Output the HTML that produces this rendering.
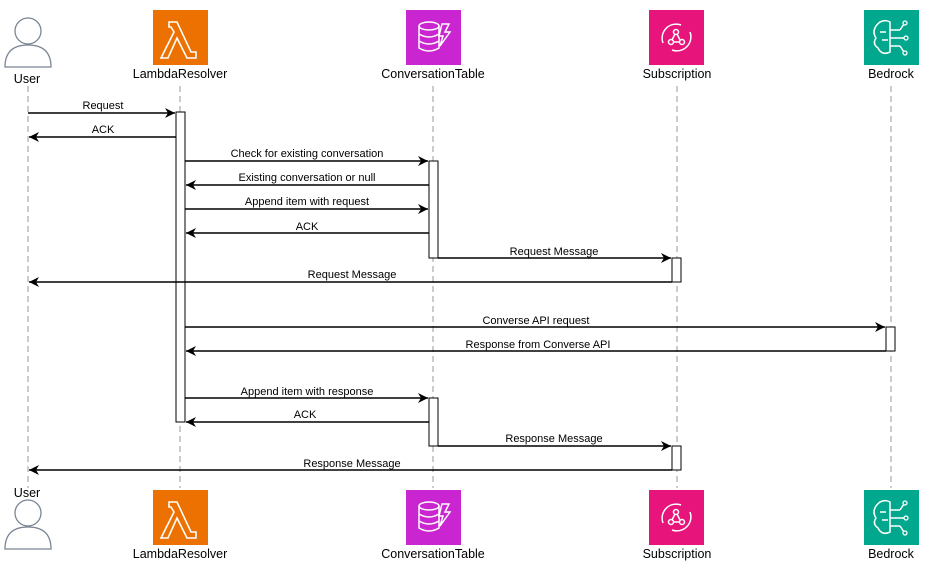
<!DOCTYPE html>
<html><head><style>body{margin:0;background:#fff}svg{display:block}text{font-family:"Liberation Sans",Arial,sans-serif;fill:#000}</style></head><body>
<svg width="930" height="571" viewBox="0 0 930 571" xmlns="http://www.w3.org/2000/svg">
<defs>
<marker id="a" markerWidth="12" markerHeight="10" refX="10" refY="5" orient="auto" markerUnits="userSpaceOnUse"><path d="M0,0 L10,5 L0,10 L3,5 Z" fill="#000"/></marker>
<g id="user"><circle cx="24" cy="14" r="13" fill="#fff" stroke="#7a8594" stroke-width="1.3"/><path d="M1,50 Q1,28 24,28 Q47,28 47,50 Z" fill="#fff" stroke="#7a8594" stroke-width="1.3"/></g>
<g id="lam"><rect width="55" height="55" fill="#ed7100"/><path d="M16,12 h8 l14,30 h5 v6 h-9 l-10,-20 l-9,20 h-7 l13,-26 l-3,-5 h-2 z" fill="none" stroke="#fff" stroke-width="1.6"/></g>
<g id="tab"><rect width="55" height="55" fill="#c925d1"/><ellipse cx="23" cy="16" rx="10" ry="4" fill="none" stroke="#fff" stroke-width="1.5"/><path d="M13,16 v22 q10,6 20,0 v-22 M13,24 q10,6 20,0 M13,31 q10,6 20,0" fill="none" stroke="#fff" stroke-width="1.5"/><path d="M36,14 h7 l-4,8 h5 l-10,14 l3,-10 h-4 z" fill="none" stroke="#fff" stroke-width="1.5"/></g>
<g id="sub"><rect width="55" height="55" fill="#e7157b"/><path d="M14,33 a14,14 0 0 1 18,-18 M41,22 a14,14 0 0 1 -18,18" fill="none" stroke="#fff" stroke-width="1.5"/><circle cx="27" cy="22" r="2.5" fill="none" stroke="#fff" stroke-width="1.5"/><circle cx="22" cy="32" r="2.5" fill="none" stroke="#fff" stroke-width="1.5"/><circle cx="33" cy="32" r="2.5" fill="none" stroke="#fff" stroke-width="1.5"/><path d="M26,24 l-3,6 M28,24 l3,6 M24.5,32 h6" stroke="#fff" stroke-width="1.5"/></g>
<g id="bed"><rect width="55" height="55" fill="#01a88d"/><path d="M12,16 q6,-8 14,-4 v30 q-8,4 -12,-4 q-6,-4 -2,-10 q-4,-6 0,-12 z M26,20 h10 M26,28 h14 M26,36 h10 M36,20 l4,-6 M36,36 l4,6 M16,22 h6 M18,30 h6" fill="none" stroke="#fff" stroke-width="1.5"/><circle cx="41" cy="13" r="2" fill="none" stroke="#fff" stroke-width="1.3"/><circle cx="42" cy="28" r="2" fill="none" stroke="#fff" stroke-width="1.3"/><circle cx="41" cy="43" r="2" fill="none" stroke="#fff" stroke-width="1.3"/></g>
</defs>
<g stroke="#999" stroke-dasharray="6,4" stroke-width="1">
<line x1="28" y1="86" x2="28" y2="488"/><line x1="180" y1="86" x2="180" y2="488"/><line x1="433" y1="86" x2="433" y2="488"/><line x1="677" y1="86" x2="677" y2="488"/><line x1="891" y1="86" x2="891" y2="488"/>
</g>
<use href="#user" x="4" y="17"/><use href="#user" x="4" y="499"/>
<use href="#lam" x="153" y="10"/><use href="#lam" x="153" y="490"/>
<use href="#tab" x="406" y="10"/><use href="#tab" x="406" y="490"/>
<use href="#sub" x="649" y="10"/><use href="#sub" x="649" y="490"/>
<use href="#bed" x="864" y="10"/><use href="#bed" x="864" y="490"/>
<g font-size="12.5" text-anchor="middle">
<text x="27" y="83">User</text><text x="180" y="78">LambdaResolver</text><text x="433" y="78">ConversationTable</text><text x="677" y="78">Subscription</text><text x="891" y="78">Bedrock</text>
<text x="27" y="497">User</text><text x="180" y="558">LambdaResolver</text><text x="433" y="558">ConversationTable</text><text x="677" y="558">Subscription</text><text x="891" y="558">Bedrock</text>
</g>
<g fill="#fff" stroke="#000" stroke-width="1">
<rect x="176" y="112" width="9" height="310"/>
<rect x="429" y="161" width="9" height="97"/><rect x="429" y="398" width="9" height="48"/>
<rect x="672" y="258" width="9" height="24"/><rect x="672" y="446" width="9" height="24"/>
<rect x="886" y="327" width="9" height="24"/>
</g>
<g stroke="#000" stroke-width="1.5" marker-end="url(#a)">
<line x1="28" y1="113" x2="175" y2="113"/>
<line x1="176" y1="137" x2="29" y2="137"/>
<line x1="185" y1="161" x2="428" y2="161"/>
<line x1="429" y1="185" x2="186" y2="185"/>
<line x1="185" y1="209" x2="428" y2="209"/>
<line x1="429" y1="233" x2="186" y2="233"/>
<line x1="438" y1="258" x2="671" y2="258"/>
<line x1="672" y1="282" x2="29" y2="282"/>
<line x1="185" y1="327" x2="885" y2="327"/>
<line x1="886" y1="351" x2="186" y2="351"/>
<line x1="185" y1="398" x2="428" y2="398"/>
<line x1="429" y1="422" x2="186" y2="422"/>
<line x1="438" y1="446" x2="671" y2="446"/>
<line x1="672" y1="470" x2="29" y2="470"/>
</g>
<g font-size="11" text-anchor="middle">
<text x="103" y="109">Request</text><text x="103" y="133">ACK</text>
<text x="307" y="157">Check for existing conversation</text>
<text x="307" y="181">Existing conversation or null</text>
<text x="307" y="205">Append item with request</text>
<text x="307" y="230">ACK</text>
<text x="554" y="255">Request Message</text>
<text x="352" y="278">Request Message</text>
<text x="536" y="324">Converse API request</text>
<text x="538" y="348">Response from Converse API</text>
<text x="307" y="395">Append item with response</text>
<text x="305" y="418">ACK</text>
<text x="554" y="442">Response Message</text>
<text x="352" y="467">Response Message</text>
</g>
</svg>
</body></html>
